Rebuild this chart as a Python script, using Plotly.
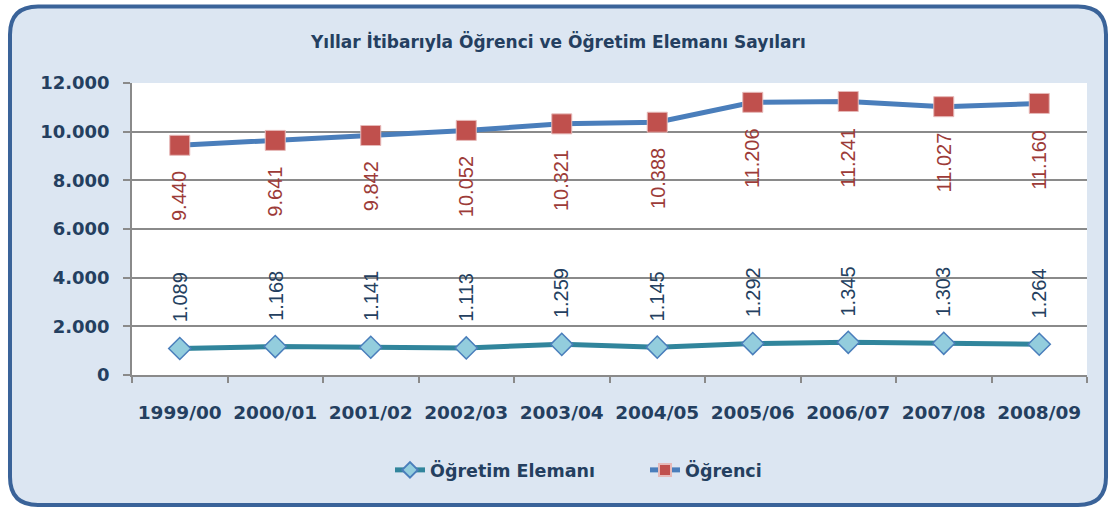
import plotly.graph_objects as go

years = ["1999/00", "2000/01", "2001/02", "2002/03", "2003/04",
         "2004/05", "2005/06", "2006/07", "2007/08", "2008/09"]
ogretim_elemani = [1089, 1168, 1141, 1113, 1259, 1145, 1292, 1345, 1303, 1264]
ogrenci = [9440, 9641, 9842, 10052, 10321, 10388, 11206, 11241, 11027, 11160]
y_ticks = [0, 2000, 4000, 6000, 8000, 10000, 12000]

title_text = "Yıllar İtibarıyla Öğrenci ve Öğretim Elemanı Sayıları"
W, H = 1109, 509
L, R, T, B = 132, 22, 83, 134
PW, PH = W - L - R, H - T - B

def fmt(v):
    return f"{v:,}".replace(",", ".")

def px2paper(x, y):
    return (x - L) / PW, (H - B - y) / PH

def rounded_rect(x0, y0, x1, y1, r):
    def P(x, y):
        a, b = px2paper(x, y)
        return f"{a:.5f},{b:.5f}"
    return (f"M {P(x0 + r, y0)} L {P(x1 - r, y0)} Q {P(x1, y0)} {P(x1, y0 + r)} "
            f"L {P(x1, y1 - r)} Q {P(x1, y1)} {P(x1 - r, y1)} "
            f"L {P(x0 + r, y1)} Q {P(x0, y1)} {P(x0, y1 - r)} "
            f"L {P(x0, y0 + r)} Q {P(x0, y0)} {P(x0 + r, y0)} Z")

dark = "#243f60"
FONT = "DejaVu Sans"
fig = go.Figure()
fig.add_trace(go.Scatter(
    x=years, y=ogretim_elemani, name="Öğretim Elemanı", mode="lines+markers",
    line=dict(color="#31859c", width=5),
    marker=dict(symbol="diamond", size=17, color="#93cddd",
                line=dict(color="#4a7ebb", width=1.5)),
))
fig.add_trace(go.Scatter(
    x=years, y=ogrenci, name="Öğrenci", mode="lines+markers",
    line=dict(color="#4a7ebb", width=5),
    marker=dict(symbol="square", size=20, color="#c0504d",
                line=dict(color="#e6b9b8", width=1)),
))

annotations = []
for x, v in zip(years, ogrenci):
    annotations.append(dict(x=x, y=v, xref="x", yref="y", text=fmt(v), showarrow=False,
                            textangle=-90, yanchor="top", yshift=-24,
                            font=dict(family="Liberation Sans, Arial", size=20, color="#9c3b38")))
for x, v in zip(years, ogretim_elemani):
    annotations.append(dict(x=x, y=v, xref="x", yref="y", text=fmt(v), showarrow=False,
                            textangle=-90, yanchor="bottom", yshift=24,
                            font=dict(family="Liberation Sans, Arial", size=20, color=dark)))
annotations.append(dict(x=(558 - L) / PW, y=px2paper(0, 41)[1], xref="paper", yref="paper",
                        text=f"<b>{title_text}</b>", showarrow=False,
                        xanchor="center", yanchor="middle",
                        font=dict(family=FONT, size=17, color=dark)))

shapes = [
    dict(type="path", xref="paper", yref="paper", layer="below",
         path=rounded_rect(10, 6.5, 1106, 505, 28),
         fillcolor="#dce6f2", line=dict(color="#3a6399", width=4)),
    dict(type="rect", xref="paper", yref="paper", layer="below",
         x0=0, x1=1, y0=0, y1=1, fillcolor="white", line=dict(width=0)),
]

fig.update_layout(
    template="none",
    width=W, height=H,
    margin=dict(l=L, r=R, t=T, b=B, pad=0, autoexpand=False),
    paper_bgcolor="white", plot_bgcolor="white",
    separators=",.",
    showlegend=True,
    legend=dict(orientation="h", x=px2paper(390, 0)[0], xanchor="left", y=px2paper(0, 470)[1],
                yanchor="middle", itemsizing="constant", entrywidth=210, entrywidthmode="pixels",
                font=dict(family=FONT, size=17.5, color=dark, weight="bold"),
                bgcolor="rgba(0,0,0,0)"),
    annotations=annotations,
    shapes=shapes,
    font=dict(family=FONT, color=dark),
)
fig.update_yaxes(
    range=[0, 12000], tickvals=y_ticks, tickformat=",d", automargin=False,
    showgrid=True, gridcolor="#8a8a8a", gridwidth=1.5,
    showline=True, linecolor="#8a8a8a", linewidth=1.5,
    ticks="outside", ticklen=7, tickcolor="#8a8a8a", tickwidth=1.5,
    tickfont=dict(family=FONT, size=18, color=dark, weight="bold"),
    ticklabelstandoff=10, zeroline=False, fixedrange=True,
)
fig.update_xaxes(
    type="category", categoryorder="array", categoryarray=years, automargin=False,
    range=[-0.5, len(years) - 0.5],
    showgrid=False, showline=True, linecolor="#8a8a8a", linewidth=1.5,
    ticks="outside", ticklen=6, tickcolor="#8a8a8a", tickwidth=1.5, tickson="boundaries",
    tickfont=dict(family=FONT, size=18.5, color=dark, weight="bold"),
    ticklabelstandoff=20, fixedrange=True,
)

fig.write_html("out.html", config={"displayModeBar": False},
               post_script="document.body.style.margin='0';")
